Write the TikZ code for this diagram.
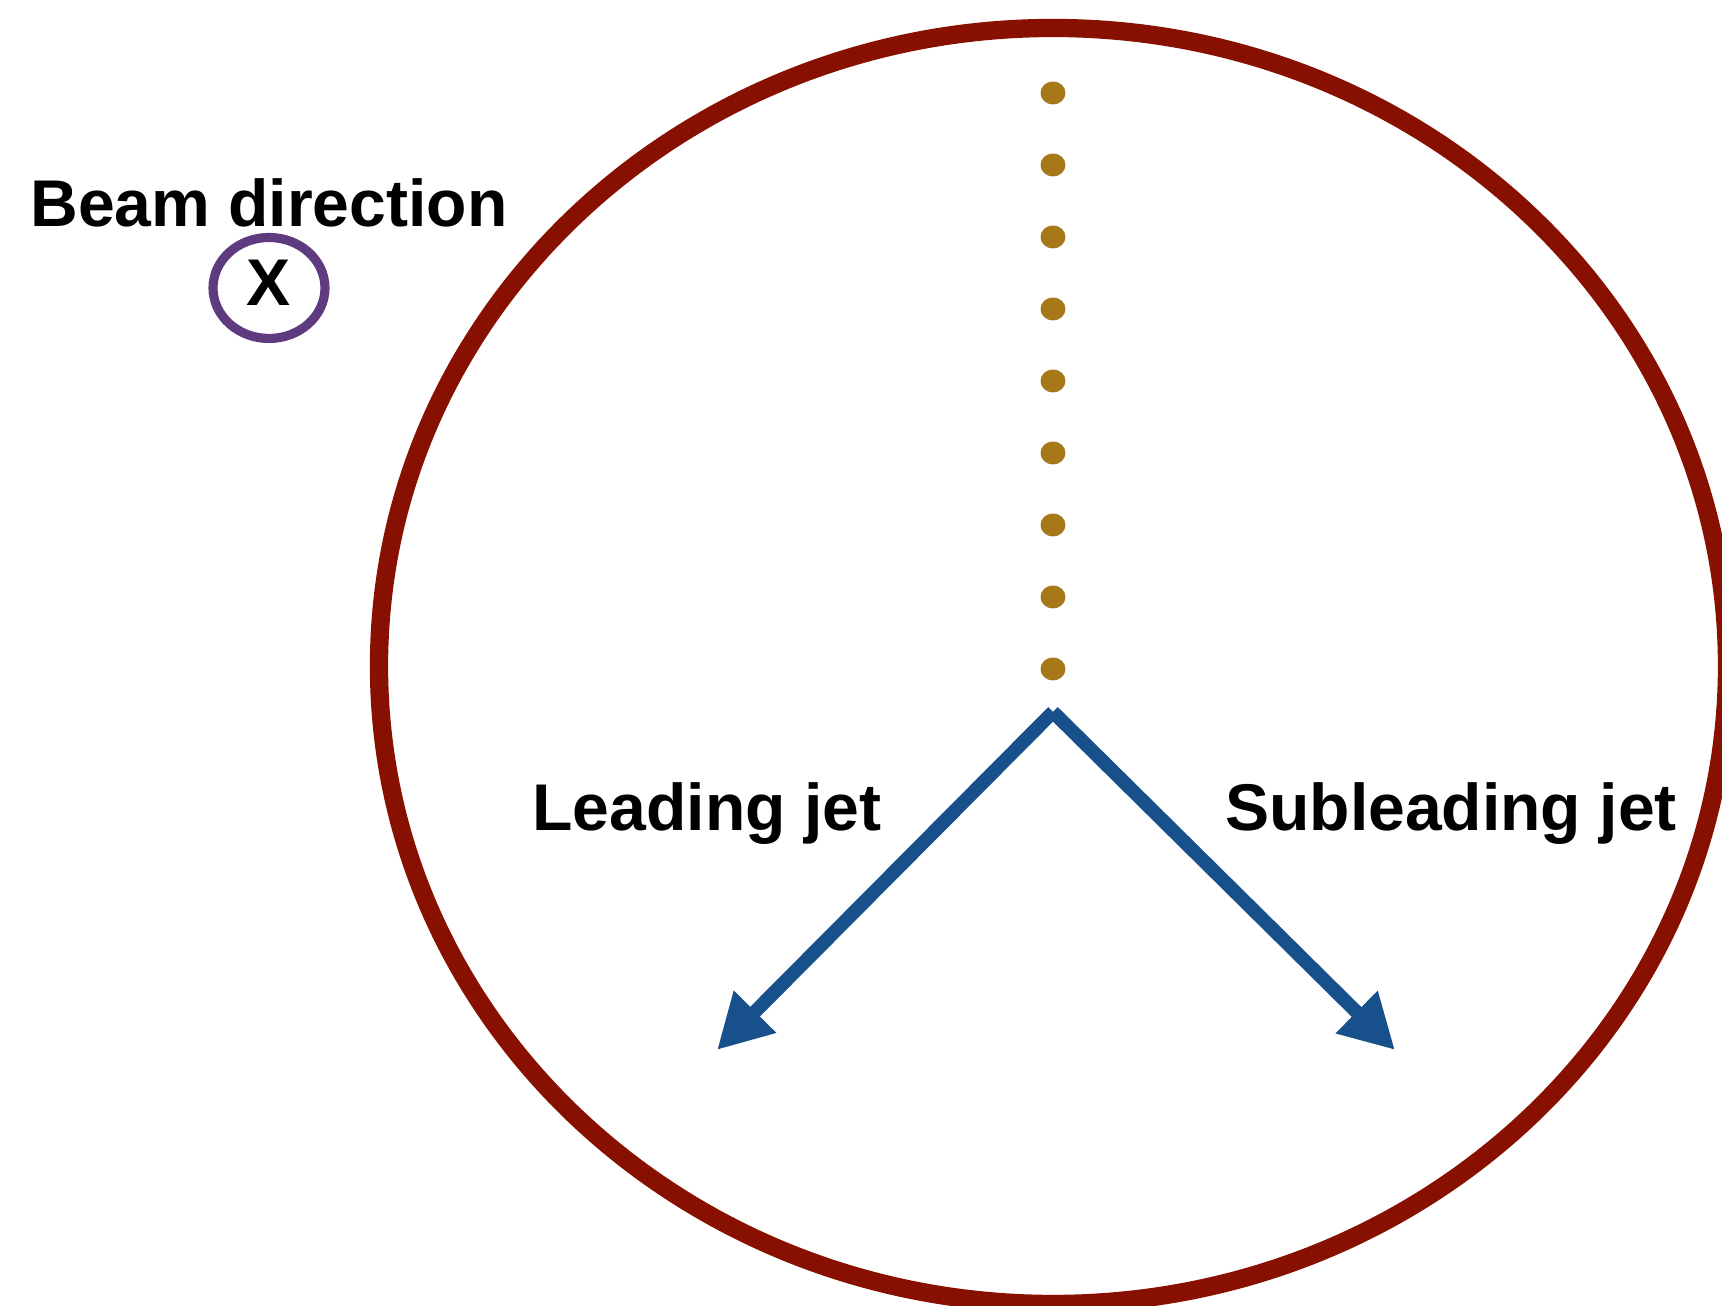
\documentclass[tikz,border=0pt]{standalone}
\usepackage{fontspec}
\setmainfont{Liberation Sans}
\usetikzlibrary{arrows.meta,positioning,shapes.geometric}
\definecolor{ringred}{RGB}{136,16,0}
\definecolor{jetblue}{RGB}{23,80,138}
\definecolor{dotgold}{RGB}{166,120,24}
\definecolor{beampurple}{RGB}{94,58,126}

\begin{document}
\begin{tikzpicture}[
  lbl/.style={font=\fontsize{18.8pt}{22pt}\selectfont\bfseries,inner sep=0pt,anchor=base},
  jet/.style={draw=jetblue,line width=3.9pt,-{Triangle[length=5.4mm,width=5.6mm]}},
  bdot/.style={fill=dotgold}]
\clip (0,0) rectangle (17.22,13.06);
% detector ring
\draw[ringred,line width=5.2pt] (10.53,6.40) ellipse (6.74 and 6.38);
% beam marker
\node[lbl] (beam) at (2.69,10.79) {Beam direction};
\draw[beampurple,line width=2.6pt] (2.69,10.18) ellipse (0.56 and 0.505);
\node[lbl] (x) at (2.69,10.00) {X};
% dotted axis
\foreach \i in {0,...,8}
  \fill[bdot] (10.53,12.13-0.72*\i) ellipse (0.125 and 0.115);
% jets
\coordinate (vtx) at (10.53,5.94);
\coordinate (lj) at (7.17,2.56);
\coordinate (sj) at (13.95,2.56);
\draw[jet] (vtx) -- (lj);
\draw[jet] (vtx) -- (sj);
\node[lbl] (lead) at (7.07,4.75) {Leading jet};
\node[lbl] (sub) at (14.51,4.75) {Subleading jet};
\end{tikzpicture}
\end{document}
